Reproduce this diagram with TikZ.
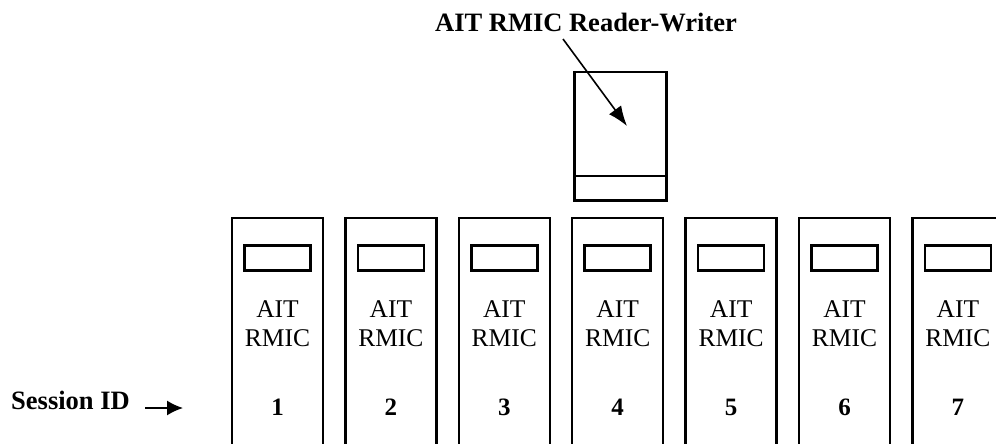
\documentclass[tikz,border=0pt]{standalone}
\usepackage{fontspec}
\setmainfont{Liberation Serif}
\usetikzlibrary{arrows.meta}
\begin{document}
\begin{tikzpicture}[x=1pt,y=-1pt,
  cart/.style={line width=2.5pt,line join=miter},
  slot/.style={draw,line width=2.5pt,minimum width=66pt,minimum height=25pt,inner sep=0pt},
  cartlabel/.style={font=\fontsize{25.5}{29}\selectfont,align=center,inner sep=0pt,anchor=north},
  idnum/.style={font=\fontsize{25}{28}\selectfont\bfseries,inner sep=0pt,anchor=base},
  boldlabel/.style={font=\fontsize{26.5}{30}\selectfont\bfseries,inner sep=0pt,anchor=base},
  pointer/.style={line width=1.6pt,-{Latex[length=20pt,width=15pt]}},
  sidarrow/.style={line width=1.6pt,-{Latex[length=16pt,width=15pt]}}]
\useasboundingbox (0,0) rectangle (996,444);
\clip (0,0) rectangle (996,444);
% reader-writer
\node[draw,line width=2.5pt,minimum width=92pt,minimum height=128pt,inner sep=0pt,anchor=north west] (rw) at (573,71) {};
\coordinate (rwl) at (573,176);
\coordinate (rwr) at (665,176);
\draw[line width=2.5pt] (rwl) -- (rwr);
\node[boldlabel] (title) at (586,32) {AIT RMIC Reader-Writer};
\coordinate (tailrw) at (563,39);
\coordinate (tiprw) at (627,126);
\draw[pointer] (tailrw) -- (tiprw);
% cartridges
\foreach \i in {1,...,7}{
  \pgfmathsetmacro{\xl}{232+(\i-1)*113.4}
  \pgfmathsetmacro{\xc}{\xl+45.5}
  \draw[cart] (\xl,450) -- (\xl,218) -- (\xl+91,218) -- (\xl+91,450);
  \node[slot] (slot\i) at (\xc,258) {};
  \node[cartlabel] (lab\i) at (\xc,300.5) {AIT\\RMIC};
  \node[idnum] (id\i) at (\xc,415) {\i};
}
% session id
\node[boldlabel,anchor=base west] (sid) at (11,409) {Session ID};
\coordinate (sidtail) at (145,408);
\coordinate (sidtip) at (183,408);
\draw[sidarrow] (sidtail) -- (sidtip);
\end{tikzpicture}
\end{document}
